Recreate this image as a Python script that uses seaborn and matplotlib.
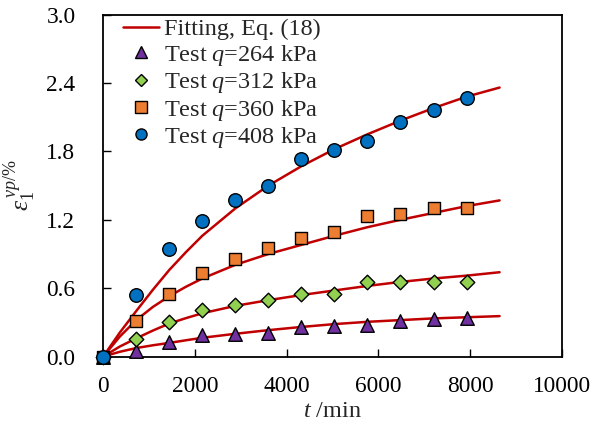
import matplotlib
matplotlib.use("Agg")
import matplotlib.pyplot as plt
import seaborn as sns
import pandas as pd
from matplotlib.lines import Line2D

# ---- data ----
t_test = [0, 720, 1440, 2160, 2880, 3600, 4320, 5040, 5760, 6480, 7200, 7920]
eps_264 = [0, 0.05, 0.13, 0.19, 0.20, 0.21, 0.26, 0.27, 0.28, 0.31, 0.33, 0.34]
eps_312 = [0, 0.15, 0.30, 0.41, 0.45, 0.50, 0.55, 0.55, 0.65, 0.65, 0.65, 0.65]
eps_360 = [0, 0.31, 0.55, 0.73, 0.86, 0.95, 1.04, 1.09, 1.23, 1.25, 1.30, 1.30]
eps_408 = [0, 0.54, 0.94, 1.19, 1.37, 1.50, 1.73, 1.81, 1.89, 2.06, 2.16, 2.27]

t_fit = [0, 360, 720, 1080, 1440, 1800, 2160, 2880, 3600, 4320, 5040, 5760,
         6480, 7200, 7920, 8640]
fit_264 = [0, 0.042, 0.075, 0.099, 0.12, 0.143, 0.165, 0.20, 0.232, 0.26, 0.285,
           0.305, 0.32, 0.335, 0.345, 0.355]
fit_312 = [0, 0.088, 0.16, 0.228, 0.29, 0.337, 0.38, 0.445, 0.495, 0.54, 0.58,
           0.62, 0.655, 0.685, 0.71, 0.74]
fit_360 = [0, 0.175, 0.32, 0.435, 0.53, 0.612, 0.685, 0.805, 0.90, 0.98, 1.06,
           1.135, 1.20, 1.26, 1.32, 1.37]
fit_408 = [0, 0.21, 0.40, 0.585, 0.76, 0.915, 1.06, 1.30, 1.50, 1.67, 1.82,
           1.95, 2.07, 2.18, 2.28, 2.36]

labels = ["Test $q$=264 kPa", "Test $q$=312 kPa", "Test $q$=360 kPa", "Test $q$=408 kPa"]
x_ticks = [0, 2000, 4000, 6000, 8000, 10000]
y_ticks = [0.0, 0.6, 1.2, 1.8, 2.4, 3.0]

# ---- style ----
sns.set_style("ticks")
plt.rcParams["font.family"] = ["Liberation Serif", "DejaVu Serif"]
plt.rcParams["mathtext.fontset"] = "custom"
plt.rcParams["mathtext.rm"] = "Liberation Serif"
plt.rcParams["mathtext.it"] = "Liberation Serif:italic"
plt.rcParams["mathtext.bf"] = "Liberation Serif:bold"

FS = 17.5
FT = 16.8
red = "#C00000"
colors = ["#7030A0", "#92D050", "#ED7D31", "#0070C0"]
markers = ["^", "D", "s", "o"]
msizes = [95, 55, 85, 95]

fig = plt.figure(figsize=(5.95, 4.23), dpi=100)
ax = fig.add_axes([0.1735, 0.157, 0.771, 0.8085])

fits = [fit_264, fit_312, fit_360, fit_408]
tests = [eps_264, eps_312, eps_360, eps_408]

for f in fits:
    df = pd.DataFrame({"t": t_fit, "e": f})
    sns.lineplot(data=df, x="t", y="e", ax=ax, color=red, linewidth=1.8,
                 legend=False, zorder=2, sort=False)

for e, c, m, s in zip(tests, colors, markers, msizes):
    df = pd.DataFrame({"t": t_test, "e": e})
    sns.scatterplot(data=df, x="t", y="e", ax=ax, color=c, marker=m, s=s,
                    edgecolor="black", linewidth=1.0, legend=False, zorder=3,
                    clip_on=False)

ax.set_xlim(0, 10000)
ax.set_ylim(0, 3.0)
ax.set_xticks(x_ticks)
ax.set_xticklabels([str(v) for v in x_ticks])
ax.set_yticks(y_ticks)
ax.set_yticklabels([f"{v:.1f}" for v in y_ticks])
ax.tick_params(direction="in", length=6, width=1.0, labelsize=FT, color="black",
               labelcolor="black")
ax.tick_params(axis="x", pad=14)
ax.tick_params(axis="y", pad=20)
for sp in ax.spines.values():
    sp.set_visible(True)
    sp.set_color("black")
    sp.set_linewidth(1.3)

ax.set_xlabel("$t$ /min", fontsize=FS, labelpad=3)
ax.set_ylabel(r"$\varepsilon_1^{\,vp/\%}$", fontsize=FS + 1, labelpad=6)

handles = [Line2D([], [], color=red, linewidth=1.8)]
for c, m in zip(colors, markers):
    ms = 8 if m != "D" else 6
    handles.append(Line2D([], [], linestyle="none", marker=m, markersize=ms,
                          markerfacecolor=c, markeredgecolor="black", markeredgewidth=1.0))
ax.legend(handles, ["Fitting, Eq. (18)"] + labels, loc="upper left",
          bbox_to_anchor=(0.035, 1.0), frameon=False, fontsize=FS,
          handlelength=1.5, handletextpad=0.2, labelspacing=0.1,
          borderaxespad=0.0, borderpad=0.15)

fig.savefig("out.png", dpi=100)
